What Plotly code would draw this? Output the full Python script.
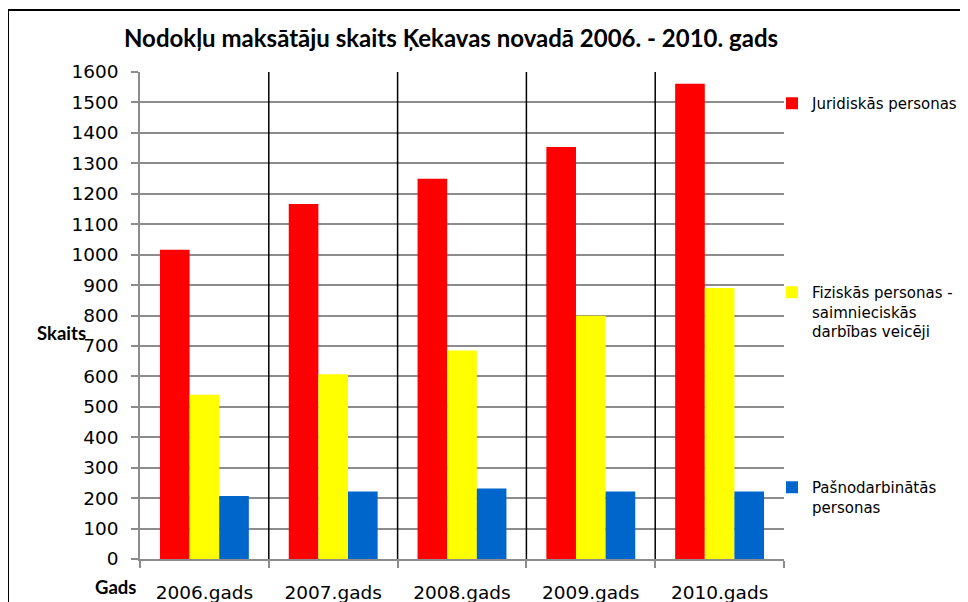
import plotly.graph_objects as go

years = ["2006.gads", "2007.gads", "2008.gads", "2009.gads", "2010.gads"]
juridiskas = [1016, 1166, 1249, 1354, 1561]
fiziskas = [540, 607, 685, 799, 890]
pasnodarbinatas = [207, 222, 232, 222, 222]

series_names = [
    "Juridiskās personas",
    "Fiziskās personas -<br>saimnieciskās<br>darbības veicēji",
    "Pašnodarbinātās<br>personas",
]
series_colors = ["#FF0000", "#FFFF00", "#0066CC"]
y_ticks = list(range(0, 1601, 100))

W, H = 968, 602
OFF = 8  # page offset of the figure inside the browser window
# plot area in window pixels
PX0, PX1, PY0, PY1 = 140, 784, 72, 559
L, T = PX0 - OFF, PY0 - OFF
R, B = W - (PX1 - OFF), H - (PY1 - OFF)
PW, PH = PX1 - PX0, PY1 - PY0


def px_x(p):
    return (p - PX0) / PW


def px_y(p):
    return (PY1 - p) / PH


fig = go.Figure()
legend_ids = ["legend", "legend2", "legend3"]
for name, vals, col, lg in zip(series_names, [juridiskas, fiziskas, pasnodarbinatas], series_colors, legend_ids):
    fig.add_trace(go.Bar(x=years, y=vals, name=name, marker=dict(color=col, line=dict(width=0)),
                         legend=lg, showlegend=True))

shapes = []
for i in range(1, len(years)):
    shapes.append(dict(type="line", xref="x", yref="y", x0=i - 0.5, x1=i - 0.5, y0=0, y1=y_ticks[-1],
                       line=dict(color="black", width=1.5), layer="above"))
# chart-area border (top and left edge visible)
shapes.append(dict(type="rect", xref="paper", yref="paper", x0=px_x(8), x1=px_x(1100), y0=px_y(700), y1=px_y(10),
                   line=dict(color="black", width=2), fillcolor="rgba(0,0,0,0)", layer="above"))

leg_font = dict(family="DejaVu Sans", size=15, color="black")
leg_common = dict(xanchor="left", yanchor="top", bgcolor="rgba(0,0,0,0)", font=leg_font, valign="top",
                  itemclick=False, itemdoubleclick=False)

tick_font = dict(family="DejaVu Sans", size=18.5, color="black")

fig.update_layout(
    width=W, height=H,
    margin=dict(l=L, r=R, t=T, b=B, autoexpand=False),
    showlegend=True,
    plot_bgcolor="white", paper_bgcolor="white",
    barmode="group", bargap=0.31, bargroupgap=0,
    font=dict(family="Lato", color="black"),
    annotations=[
        dict(text="<b>Nodokļu maksātāju skaits Ķekavas novadā 2006. - 2010. gads</b>", xref="paper", yref="paper",
             x=px_x(451), y=px_y(38), xanchor="center", yanchor="middle", showarrow=False,
             font=dict(family="Lato", size=24, color="black")),
        dict(text="<b>Skaits</b>", xref="paper", yref="paper", x=px_x(61), y=px_y(333), xanchor="center",
             yanchor="middle", showarrow=False, font=dict(family="Lato", size=18.5, color="black")),
        dict(text="<b>Gads</b>", xref="paper", yref="paper", x=px_x(115), y=px_y(587), xanchor="center",
             yanchor="middle", showarrow=False, font=dict(family="Lato", size=18.5, color="black")),
    ],
    shapes=shapes,
    legend=dict(x=px_x(772), y=px_y(87), **leg_common),
    legend2=dict(x=px_x(772), y=px_y(276), **leg_common),
    legend3=dict(x=px_x(772), y=px_y(471), **leg_common),
    xaxis=dict(type="category", range=[-0.5, len(years) - 0.5], showgrid=False, showline=True,
               linecolor="#8c8c8c", linewidth=1.5, ticks="outside", tickson="boundaries", ticklen=7,
               tickcolor="#8c8c8c", tickwidth=1.5, tickfont=tick_font,
               ticklabelstandoff=16, fixedrange=True, automargin=False),
    yaxis=dict(range=[0, y_ticks[-1]], tickvals=y_ticks, showgrid=True, gridcolor="#8c8c8c", gridwidth=1.5,
               showline=True, linecolor="#8c8c8c", linewidth=1.5, ticks="outside", ticklen=7,
               tickcolor="#8c8c8c", tickwidth=1.5, tickfont=tick_font,
               ticklabelstandoff=9, zeroline=False, fixedrange=True, automargin=False),
)

fig.write_html("out.html")
